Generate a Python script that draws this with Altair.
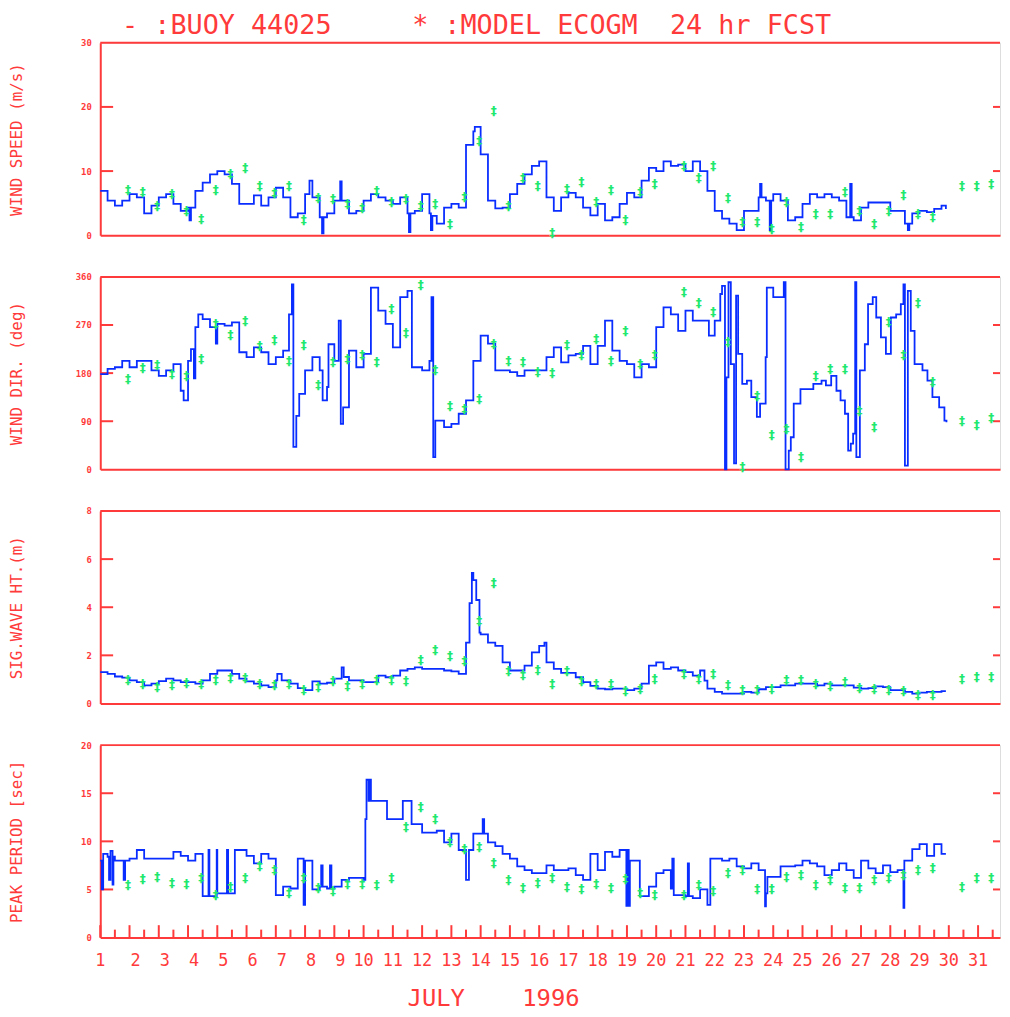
import altair as alt
import pandas as pd

RED = "#ff3a3a"
BLUE = "#0a2dff"
GREEN = "#20e86e"
MONO = "DejaVu Sans Mono"

X_MAX = 31.75
GRID_START = 1.0
GRID_STEP = 0.25
NB = "\u00a0"

TITLE = "- :BUOY 44025" + NB * 5 + "* :MODEL ECOGM" + NB * 2 + "24 hr FCST"
X_TITLE = "JULY" + NB * 4 + "1996"
DAY_LABELS = list(range(1, 32))
HALF_DAYS = [d + 0.5 for d in range(1, 32)]

# ---------------- model (24 hr forecast) times ----------------
model_day = [1.95, 2.45, 2.95, 3.45, 3.95, 4.45, 4.95, 5.45, 5.95, 6.45,
             6.95, 7.45, 7.95, 8.45, 8.95, 9.45, 9.95, 10.45, 10.95, 11.45,
             11.95, 12.45, 12.95, 13.45, 13.95, 14.45, 14.95, 15.45, 15.95, 16.45,
             16.95, 17.45, 17.95, 18.45, 18.95, 19.45, 19.95,
             20.95, 21.45, 21.95, 22.45, 22.95, 23.45, 23.95, 24.45, 24.95, 25.45,
             25.95, 26.45, 26.95, 27.45, 27.95, 28.45, 28.95, 29.45,
             30.45, 30.95, 31.45]

# ---------------- wind speed ----------------
ws_grid = [6.9, 5.4, 4.6, 5.4, 6.4, 5.9, 3.4, 4.6, 5.9, 6.4, 4.9, 3.8,
           4.3, 6.9, 8.2, 9.5, 10.0, 9.5, 8.0, 4.9, 4.9, 6.2, 4.6, 5.9,
           7.4, 5.9, 2.8, 3.4, 6.4, 5.9, 2.8, 3.4, 5.4, 5.4, 3.4, 3.8,
           5.4, 6.4, 5.9, 5.4, 4.9, 5.9, 3.4, 3.8, 6.4, 3.4, 1.8, 4.3,
           4.9, 4.3, 14.1, 16.2, 12.6, 5.4, 4.2, 4.3, 6.4, 8.0, 9.5, 10.8,
           11.5, 5.9, 3.8, 5.9, 6.6, 5.9, 4.3, 3.1, 4.9, 2.3, 2.8, 4.9,
           6.6, 5.9, 8.5, 10.5, 10.0, 11.5, 10.8, 11.0, 10.0, 11.5, 10.0, 6.9,
           3.8, 2.6, 1.8, 0.8, 3.8, 3.8, 5.9, 5.4, 6.4, 5.4, 2.3, 2.8,
           4.9, 6.4, 5.9, 6.4, 5.9, 5.4, 2.8, 2.3, 4.3, 5.1, 5.1, 5.1,
           3.8, 3.8, 1.8, 3.4, 3.8, 3.6, 4.1, 4.6]
ws_extra_day = [4.05, 4.1, 8.15, 8.58, 8.63, 9.2, 11.55, 11.6, 12.3, 12.35,
                13.8, 23.55, 23.6, 23.88, 23.93, 26.63, 26.68, 28.6, 28.65, 29.9]
ws_extra_val = [2.3, 4.3, 8.5, 0.3, 2.8, 8.4, 0.5, 3.4, 0.8, 3.0,
                16.9, 8.0, 5.9, 0.8, 5.4, 8.0, 2.8, 0.8, 1.8, 4.1]
ws_model = [7.0, 6.8, 4.5, 6.4, 3.7, 2.6, 7.1, 9.5, 10.4, 7.7,
            6.6, 7.7, 2.3, 5.8, 5.6, 4.9, 4.3, 6.9, 5.1, 5.7,
            4.6, 4.9, 1.7, 5.9, 14.7, 19.3, 4.5, 8.9, 7.7, 0.3,
            7.2, 8.3, 5.1, 7.0, 2.4, 6.7, 8.0,
            10.8, 8.9, 10.8, 5.8, 2.0, 2.0, 1.0, 5.1, 1.3, 3.3,
            3.3, 6.8, 3.8, 1.7, 3.8, 6.2, 3.3, 2.8,
            7.6, 7.6, 8.0]

# ---------------- wind direction ----------------
wd_day = [1.0, 1.25, 1.5, 1.75, 2.0, 2.25, 2.5, 2.75, 3.0, 3.25, 3.5, 3.75, 3.85,
          4.0, 4.1, 4.2, 4.25, 4.35, 4.5, 4.75, 4.95, 5.0, 5.25, 5.5, 5.75,
          6.0, 6.25, 6.5, 6.75, 7.0, 7.25, 7.45, 7.55, 7.6, 7.7, 7.8,
          8.0, 8.25, 8.5, 8.6, 8.75, 8.8, 9.0, 9.15, 9.22, 9.3, 9.5, 9.75,
          10.0, 10.25, 10.5, 10.75, 11.0, 11.25, 11.5, 11.65, 11.75,
          12.0, 12.25, 12.32, 12.38, 12.45, 12.75, 13.0, 13.25, 13.5, 13.75,
          14.0, 14.25, 14.5, 14.75, 15.0, 15.25, 15.5, 15.75, 16.0, 16.25,
          16.5, 16.75, 17.0, 17.25, 17.5, 17.75, 18.0, 18.25, 18.5, 18.75,
          19.0, 19.25, 19.5, 19.75, 20.0, 20.25, 20.5, 20.75, 21.0, 21.25,
          21.5, 21.8, 22.0, 22.19, 22.25, 22.35, 22.4, 22.47, 22.55, 22.66,
          22.73, 22.8, 22.94, 23.1, 23.25, 23.44, 23.55, 23.74, 23.78, 24.0,
          24.3, 24.36, 24.42, 24.53, 24.6, 24.7, 24.93, 25.37, 25.65, 25.8,
          25.98, 26.16, 26.3, 26.45, 26.56, 26.65, 26.73, 26.8, 26.84, 26.96,
          27.13, 27.24, 27.4, 27.52, 27.68, 27.85, 28.02, 28.2, 28.36, 28.45,
          28.5, 28.6, 28.7, 28.83, 29.1, 29.27, 29.44, 29.67, 29.85, 29.92]
wd_val = [178, 188, 191, 203, 191, 203, 203, 185, 175, 185, 197, 147, 129,
          203, 225, 170, 266, 290, 281, 266, 235, 272, 269, 275, 219,
          210, 228, 219, 197, 210, 222, 290, 346, 42, 100, 141,
          185, 210, 185, 129, 154, 234, 203, 278, 85, 116, 222, 191,
          216, 340, 297, 272, 228, 322, 334, 191, 191,
          185, 203, 322, 23, 91, 79, 85, 104, 129, 203,
          250, 235, 185, 185, 182, 175, 185, 185, 185, 210,
          228, 200, 213, 216, 231, 197, 231, 278, 222, 203,
          197, 172, 197, 191, 266, 303, 290, 259, 297, 278,
          278, 250, 278, 328, 343, 0, 172, 350, 197, 11,
          325, 216, 160, 166, 135, 98, 123, 210, 340, 322,
          322, 350, 0, 35, 60, 123, 150, 160, 166, 157,
          175, 147, 129, 104, 35, 48, 67, 350, 23, 185,
          234, 309, 322, 284, 247, 216, 284, 290, 309, 346,
          7, 334, 259, 197, 185, 166, 135, 116, 91, 88]
wd_model = [169, 190, 195, 178, 174, 207, 271, 252, 278, 230,
            241, 203, 233, 158, 200, 207, 213, 200, 300, 255,
            345, 185, 118, 113, 132, 234, 203, 200, 182, 180,
            233, 213, 243, 203, 259, 197, 213,
            331, 312, 294, 238, 4, 138, 65, 76, 23, 175,
            188, 188, 110, 80, 275, 213, 312, 163,
            91, 82, 96]

# ---------------- significant wave height ----------------
wh_grid = [1.30, 1.23, 1.12, 1.07, 0.96, 0.89, 0.75, 0.82, 0.93, 1.03, 0.96, 0.89,
           0.89, 0.82, 0.96, 1.23, 1.37, 1.37, 1.23, 1.03, 0.92, 0.82, 0.75, 0.68,
           0.96, 0.96, 0.82, 0.64, 0.55, 0.92, 0.82, 0.86, 1.03, 1.50, 0.96, 0.96,
           0.89, 0.89, 1.16, 1.09, 1.16, 1.37, 1.44, 1.50, 1.44, 1.44, 1.44, 1.37,
           1.33, 1.23, 2.53, 5.13, 2.87, 2.53, 2.39, 1.71, 1.37, 1.37, 1.57, 2.12,
           2.39, 1.71, 1.44, 1.27, 1.27, 1.09, 0.89, 0.73, 0.62, 0.59, 0.62, 0.62,
           0.55, 0.62, 0.82, 1.57, 1.71, 1.44, 1.50, 1.37, 1.30, 1.16, 1.37, 0.62,
           0.48, 0.41, 0.41, 0.41, 0.48, 0.45, 0.59, 0.68, 0.68, 0.75, 0.75, 0.82,
           0.82, 0.82, 0.75, 0.82, 0.75, 0.75, 0.75, 0.66, 0.62, 0.64, 0.71, 0.68,
           0.55, 0.55, 0.48, 0.41, 0.45, 0.48, 0.48, 0.51]
wh_extra_day = [7.05, 7.2, 9.32, 13.62, 13.7, 13.85, 13.96, 16.18, 21.65, 29.9]
wh_extra_val = [1.23, 0.96, 1.10, 4.17, 5.43, 4.30, 2.94, 2.53, 0.95, 0.51]
wh_model = [0.96, 0.79, 0.68, 0.75, 0.86, 0.79, 0.96, 1.05, 1.07, 0.82,
            0.75, 0.82, 0.55, 0.68, 0.92, 0.71, 0.82, 0.96, 0.96, 0.92,
            1.81, 2.22, 1.98, 1.78, 3.42, 5.02, 1.33, 1.20, 1.37, 0.82,
            1.33, 0.92, 0.82, 0.82, 0.52, 0.62, 1.03,
            1.23, 1.03, 1.23, 0.75, 0.55, 0.55, 0.62, 0.98, 0.98, 0.82,
            0.73, 0.89, 0.64, 0.62, 0.55, 0.51, 0.37, 0.34,
            1.03, 1.09, 1.09]

# ---------------- peak period ----------------
pp_grid = [8.0, 8.4, 8.0, 8.0, 8.2, 9.1, 8.2, 8.2, 8.2, 8.2, 8.9, 8.5,
           8.0, 8.7, 4.3, 4.3, 4.6, 4.6, 4.6, 9.1, 8.5, 7.7, 8.7, 8.2,
           4.4, 5.3, 5.1, 8.2, 8.0, 5.0, 5.3, 5.1, 5.3, 6.0, 6.2, 6.2,
           6.0, 14.2, 14.2, 14.2, 12.3, 12.3, 14.2, 11.8, 10.9, 10.9, 11.1, 9.9,
           10.8, 9.1, 6.0, 10.8, 10.8, 9.9, 9.5, 8.7, 8.2, 7.4, 7.0, 6.7,
           6.7, 7.5, 7.0, 7.0, 7.2, 6.5, 6.0, 8.7, 7.0, 8.9, 8.4, 9.1,
           3.3, 8.0, 4.3, 5.3, 6.7, 7.0, 5.1, 4.4, 4.3, 4.1, 5.0, 3.4,
           8.2, 8.0, 8.2, 7.4, 7.2, 7.7, 7.0, 4.6, 6.3, 7.4, 7.4, 7.5,
           8.0, 7.7, 7.4, 6.5, 7.0, 7.7, 7.0, 6.2, 8.0, 7.2, 6.7, 7.5,
           6.8, 7.0, 8.0, 9.2, 9.7, 8.5, 9.7, 8.7]
pp_extra_day = [1.05, 1.1, 1.3, 1.35, 1.42, 1.45, 1.8, 1.85,
                4.7, 4.73, 4.98, 5.05, 5.33, 5.37, 5.6,
                7.95, 8.55, 8.6, 8.85, 8.9,
                10.06, 10.1, 10.17, 10.21, 10.8, 11.34, 11.64,
                13.6, 14.07, 14.12, 18.98, 19.02, 19.06, 19.1, 19.44,
                20.55, 20.6, 21.08, 21.12, 21.85, 23.72, 23.8, 28.45, 28.48, 29.9]
pp_extra_val = [5.0, 8.7, 6.0, 9.0, 5.5, 8.4, 6.0, 8.0,
                9.1, 4.3, 9.1, 4.6, 9.1, 4.6, 9.1,
                3.4, 7.5, 5.3, 7.5, 5.1,
                12.3, 16.4, 14.2, 16.4, 12.3, 14.2, 11.8,
                9.1, 12.3, 10.8, 3.3, 9.1, 3.3, 8.0, 4.3,
                8.2, 4.4, 7.7, 4.3, 8.2, 3.25, 6.3, 3.1, 8.0, 8.7]
pp_model = [5.5, 6.1, 6.3, 5.7, 5.6, 6.2, 4.4, 5.3, 6.2, 7.4,
            7.0, 4.6, 6.2, 5.1, 4.8, 5.6, 5.6, 5.5, 6.2, 11.5,
            13.6, 12.3, 9.9, 9.2, 9.4, 7.7, 6.0, 5.1, 5.7, 6.2,
            5.3, 5.0, 5.6, 5.2, 6.1, 4.6, 4.4,
            4.4, 5.5, 4.8, 6.7, 7.0, 5.0, 5.0, 6.3, 6.5, 5.5,
            6.0, 5.1, 5.1, 6.0, 6.2, 6.5, 7.0, 7.2,
            5.3, 6.2, 6.2]


def grid_series(grid_vals, extra_day, extra_val):
    days = [GRID_START + GRID_STEP * i for i in range(len(grid_vals))] + list(extra_day)
    vals = list(grid_vals) + list(extra_val)
    return pd.DataFrame({"day": days, "val": vals}).sort_values("day").reset_index(drop=True)


PLOT_W = 907
PLOT_H = 194


def panel(buoy, model_vals, ymax, yticks, ytitle, bottom=False):
    model = pd.DataFrame({"day": model_day, "val": model_vals})
    xscale = alt.Scale(domain=[1, X_MAX], nice=False, zero=False)
    yscale = alt.Scale(domain=[0, ymax], nice=False, zero=True)
    if bottom:
        xaxis = alt.Axis(labels=False, ticks=False, grid=False,
                         domainColor=RED, domainWidth=2,
                         title=X_TITLE, titleX=396, titleY=61, titleAlign="center",
                         titleBaseline="middle", titleColor=RED, titleFont=MONO,
                         titleFontSize=24, titleFontWeight="normal")
    else:
        xaxis = alt.Axis(labels=False, ticks=False, grid=False, domainColor=RED,
                         domainWidth=2, title=None)
    yaxis = alt.Axis(values=yticks, labelFlush=False, ticks=False, grid=False,
                     domainColor=RED, domainWidth=2,
                     labelColor=RED, labelFont=MONO, labelFontSize=9,
                     labelFontWeight="bold", labelPadding=9,
                     title=ytitle, titleX=-84, titleY=PLOT_H / 2, titleAngle=270,
                     titleAlign="center", titleBaseline="middle", titleColor=RED,
                     titleFont=MONO, titleFontSize=16, titleFontWeight="normal")
    X = alt.X("day:Q", scale=xscale, axis=xaxis)
    Y = alt.Y("val:Q", scale=yscale, axis=yaxis)

    line = alt.Chart(buoy).mark_line(interpolate="step-after", color=BLUE,
                                     strokeWidth=1.8).encode(x=X, y=Y)
    pts = alt.Chart(model).mark_text(text="\u2021", font="DejaVu Sans", fontSize=12,
                                     fontWeight="bold", color=GREEN,
                                     baseline="middle", align="center").encode(x=X, y=Y)
    inner = pd.DataFrame({"val": yticks[1:-1]})
    lt = alt.Chart(inner).mark_rule(color=RED, strokeWidth=2).encode(
        x=alt.datum(1), x2=alt.datum(1.44), y=Y)
    rt = alt.Chart(inner).mark_rule(color=RED, strokeWidth=2).encode(
        x=alt.datum(X_MAX - 0.24), x2=alt.datum(X_MAX), y=Y)
    topdf = pd.DataFrame({"val": [ymax]})
    top = alt.Chart(topdf).mark_rule(color=RED, strokeWidth=2).encode(
        x=alt.datum(1), x2=alt.datum(X_MAX), y=Y)
    layers = [lt, rt, top, line, pts]
    if bottom:
        major = pd.DataFrame({"day": DAY_LABELS})
        minor = pd.DataFrame({"day": HALF_DAYS})
        mj = alt.Chart(major).mark_rule(color=RED, strokeWidth=2).encode(
            x=X, y=alt.datum(0), y2=alt.datum(ymax * 12.5 / PLOT_H))
        mn = alt.Chart(minor).mark_rule(color=RED, strokeWidth=2).encode(
            x=X, y=alt.datum(0), y2=alt.datum(ymax * 8 / PLOT_H))
        labs = pd.DataFrame({"day": DAY_LABELS, "lab": [str(d) for d in DAY_LABELS]})
        single = labs[(labs["day"] >= 2) & (labs["day"] <= 9)]
        rest = labs[(labs["day"] < 2) | (labs["day"] > 9)]
        lab_c = alt.Chart(rest).mark_text(font=MONO, fontSize=17, color=RED,
                                          align="center", baseline="middle", dy=24).encode(
            x=X, y=alt.datum(0), text="lab:N")
        lab_l = alt.Chart(single).mark_text(font=MONO, fontSize=17, color=RED,
                                            align="left", baseline="middle", dy=24, dx=1).encode(
            x=X, y=alt.datum(0), text="lab:N")
        layers = [mj, mn, lab_c, lab_l] + layers
    return alt.layer(*layers).properties(width=PLOT_W, height=PLOT_H)


ws_df = grid_series(ws_grid, ws_extra_day, ws_extra_val)
wd_df = pd.DataFrame({"day": wd_day, "val": wd_val})
wh_df = grid_series(wh_grid, wh_extra_day, wh_extra_val)
pp_df = grid_series(pp_grid, pp_extra_day, pp_extra_val)

p1 = panel(ws_df, ws_model, 30, [0, 10, 20, 30], "WIND SPEED (m/s)")
p2 = panel(wd_df, wd_model, 360, [0, 90, 180, 270, 360], "WIND DIR. (deg)")
p3 = panel(wh_df, wh_model, 8, [0, 2, 4, 6, 8], "SIG.WAVE HT.(m)")
p4 = panel(pp_df, pp_model, 20, [0, 5, 10, 15, 20], "PEAK PERIOD [sec]", bottom=True)

chart = alt.vconcat(p1, p2, p3, p4, spacing=31).properties(
    title=alt.TitleParams(TITLE, anchor="start", frame="group", font=MONO, fontSize=27,
                          fontWeight="normal", color=RED, dx=22, offset=-2),
    padding={"left": 0, "top": 0, "right": 0, "bottom": 0},
).configure_view(stroke=None).configure(background="white")

chart.save("out.html", embed_options={"renderer": "svg", "actions": False})
